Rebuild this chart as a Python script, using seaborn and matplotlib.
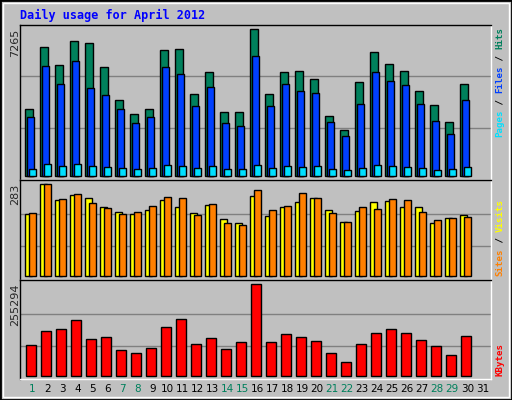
import matplotlib
matplotlib.use("Agg")
import matplotlib.pyplot as plt
import seaborn as sns
import numpy as np
import pandas as pd
from matplotlib.patches import Rectangle

days = list(range(1, 32))
hits = [3311,6375,5485,6672,6573,5387,3756,3064,3311,6227,6276,4052,5140,3163,3163,7265,4052,5140,5189,4794,2965,2273,4645,6128,5535,5189,4201,3509,2669,4547]
files = [2916,5436,4547,5683,4349,4003,3311,2619,2916,5387,5041,3459,4398,2619,2471,5930,3459,4547,4201,4102,2669,1977,3558,5140,4695,4497,3558,2718,2076,3756]
pages = [346,593,494,593,494,445,395,346,395,544,494,395,494,346,346,544,395,494,445,494,346,297,395,544,494,445,395,297,346,445]
visits = [191,283,234,249,240,212,197,191,203,234,212,194,218,175,163,246,185,212,228,240,203,166,200,228,231,212,212,163,178,188]
sites = [194,283,237,252,224,209,191,197,215,243,240,188,221,163,157,264,203,215,255,240,194,166,212,206,237,234,197,172,178,181]
kbytes = [86955,126225,131835,154275,103785,109395,72930,64515,78540,134640,157080,89760,106590,75735,95370,255294,95370,117810,109395,98175,64515,39270,89760,120615,131835,120615,100980,84150,58905,112200]
weekend = [1,7,8,14,15,21,22,28,29]

BG = "#C0C0C0"
sns.set_theme(style="white")
plt.rcParams['font.family'] = ['DejaVu Sans']
fig = plt.figure(figsize=(5.12, 4.0), dpi=100, facecolor=BG)
fig.patches.append(Rectangle((0, 0), 1, 1, transform=fig.transFigure, fill=False, ec="black", lw=2))
fig.patches.append(Rectangle((0.006, 0.008), 0.988, 0.985, transform=fig.transFigure, fill=False, ec="white", lw=1))

n = len(hits)
d = np.array(days[:n], dtype=float)
left, width = 20/512, 471/512
axs = [fig.add_axes([left, 0.55, width, 0.3875]),
       fig.add_axes([left, 0.30, width, 0.25]),
       fig.add_axes([left, 0.0525, width, 0.2475])]

def bars(ax, x, y, color, w):
    df = pd.DataFrame({"x": x, "y": y})
    sns.barplot(data=df, x="x", y="y", native_scale=True, width=w, color=color,
                edgecolor="black", linewidth=1, saturation=1, ax=ax)

bars(axs[0], d - 0.27, hits, "#00805C", 0.47)
bars(axs[0], d - 0.14, files, "#0040FF", 0.47)
bars(axs[0], d - 0.01, pages, "#00E0FF", 0.47)
bars(axs[1], d - 0.3, visits, "#FFFF00", 0.44)
bars(axs[1], d - 0.01, sites, "#FF8000", 0.47)
bars(axs[2], d - 0.15, kbytes, "#FF0000", 0.66)

maxes = [max(hits), max(sites), max(kbytes)]
lims = [(-0.027, 1.029), (-0.04, 1.046), (-0.036, 1.047)]
for ax, M, (lo, hi) in zip(axs, maxes, lims):
    ax.set_facecolor(BG)
    ax.set_xlim(0.13, 31.53)
    ax.set_ylim(lo*M, hi*M)
    for g in (0.33, 0.68):
        ax.axhline(g*M, color="#808080", lw=1, zorder=0)
    ax.set_xticks([]); ax.set_yticks([])
    ax.set_xlabel(""); ax.set_ylabel("")
    ax.spines["top"].set_color("black"); ax.spines["left"].set_color("black")
    ax.spines["bottom"].set_color("white"); ax.spines["right"].set_color("white")
    for s in ax.spines.values():
        s.set_linewidth(1)

for day in days:
    axs[2].text(day - 0.05, -0.1, str(day), transform=axs[2].get_xaxis_transform(),
                ha="center", va="center", fontsize=7.5,
                color="#00805C" if day in weekend else "black")

fig.text(20/512, 1 - 15/400, "Daily usage for April 2012", color="#0000FF",
         family="DejaVu Sans Mono", fontweight="bold", fontsize=8.5, va="center")
for lab, ytop in (("7265", 29), ("283", 184), ("255294", 284)):
    fig.text(15/512, 1 - ytop/400, lab, rotation=90, ha="center", va="top", fontsize=8)

def vlabel(parts, ybot):
    y = ybot
    for txt, col in parts:
        fig.text(500/512, 1 - y/400, txt, rotation=90, ha="center", va="bottom",
                 color=col, family="DejaVu Sans Mono", fontweight="bold", fontsize=6.6)
        y -= len(txt) * 5.5

vlabel([("Pages", "#00E0FF"), (" / ", "black"), ("Files", "#0040FF"), (" / ", "black"), ("Hits", "#00805C")], 137)
vlabel([("Sites", "#FF8000"), (" / ", "black"), ("Visits", "#FFFF00")], 276)
vlabel([("KBytes", "#FF0000")], 376)

fig.savefig("out.png", dpi=100, facecolor=BG)
